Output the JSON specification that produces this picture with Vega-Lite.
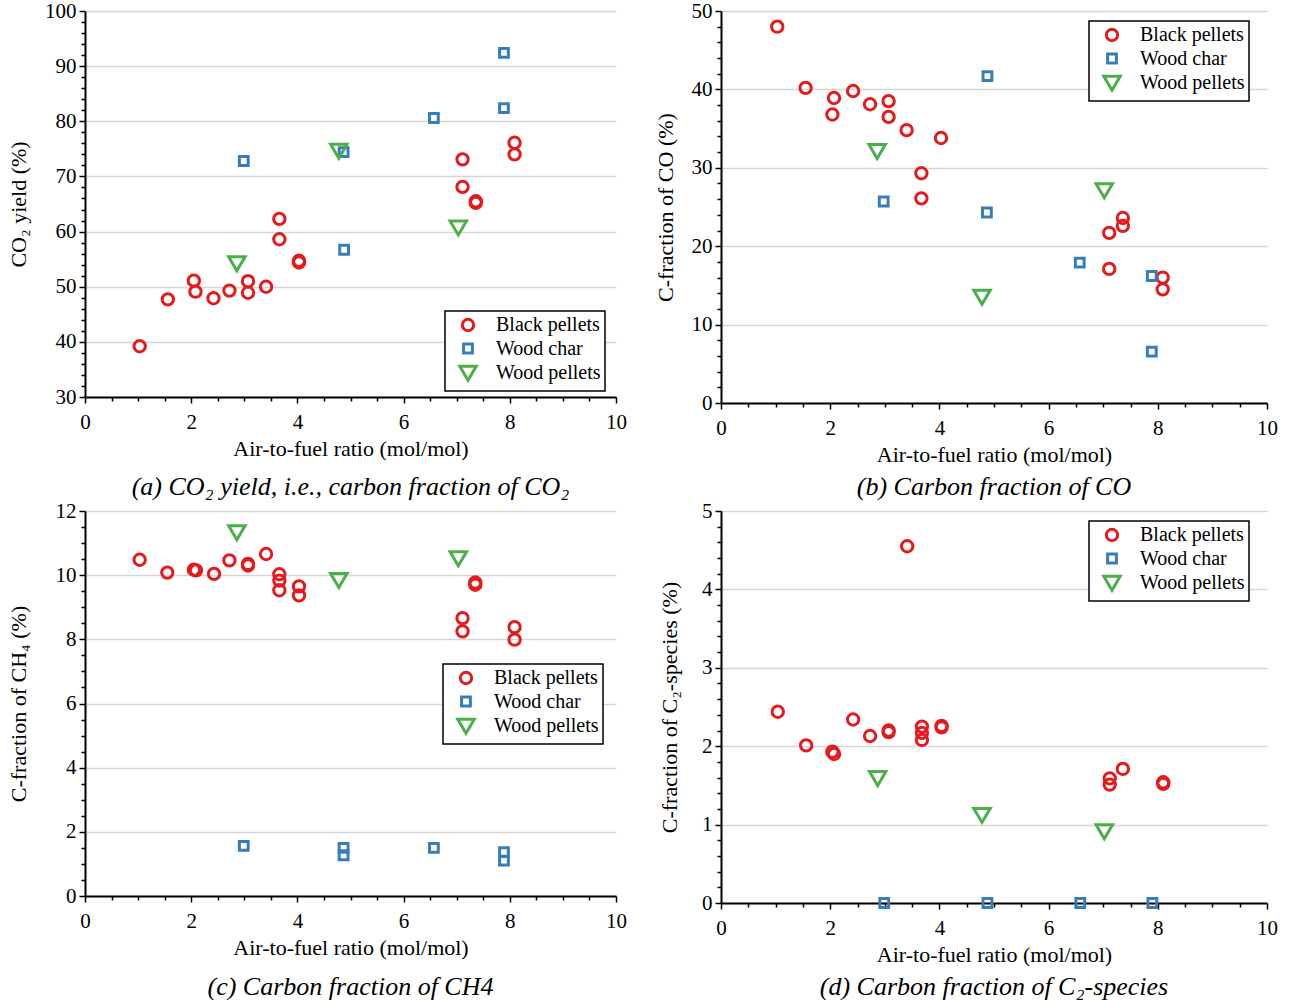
{
  "$schema": "https://vega.github.io/schema/vega-lite/v6.json",
  "padding": {"left": 7, "top": 0, "right": 2, "bottom": 0},
  "background": "white",
  "config": {
    "font": "Liberation Serif",
    "view": {"stroke": null},
    "point": {"opacity": 1, "filled": false, "strokeWidth": 3, "size": 256},
    "axis": {"labelFont": "Liberation Serif", "titleFont": "Liberation Serif", "labelFontSize": 21, "titleFontSize": 22, "titleFontWeight": "normal", "labelColor": "black", "titleColor": "black", "domainColor": "black", "domainWidth": 2, "tickColor": "black", "tickWidth": 1.5, "gridColor": "#d6d6d6", "gridWidth": 1.6, "labelFlush": false, "labelOverlap": false, "format": "d"},
    "axisX": {"labelPadding": 8, "titlePadding": 6},
    "axisY": {"labelPadding": 3, "titlePadding": 14},
    "legend": {"labelFont": "Liberation Serif", "labelFontSize": 20, "labelColor": "black", "strokeColor": "black", "fillColor": "white", "padding": 4, "symbolOffset": 9, "rowPadding": 0.5, "labelOffset": 18, "symbolStrokeWidth": 3, "symbolSize": 256, "symbolOpacity": 1, "strokeWidth": 1.5},
    "title": {"font": "Liberation Serif", "fontSize": 26, "fontStyle": "italic", "fontWeight": "normal", "orient": "bottom", "color": "black", "offset": 9}
  },
  "datasets": {
    "a": [
      {"x": 1.03, "y": 39.2, "fuel": "Black pellets"},
      {"x": 1.56, "y": 47.7, "fuel": "Black pellets"},
      {"x": 2.05, "y": 51.1, "fuel": "Black pellets"},
      {"x": 2.08, "y": 49.1, "fuel": "Black pellets"},
      {"x": 2.42, "y": 47.9, "fuel": "Black pellets"},
      {"x": 2.72, "y": 49.3, "fuel": "Black pellets"},
      {"x": 3.07, "y": 51.0, "fuel": "Black pellets"},
      {"x": 3.07, "y": 48.9, "fuel": "Black pellets"},
      {"x": 3.41, "y": 50.0, "fuel": "Black pellets"},
      {"x": 3.66, "y": 62.3, "fuel": "Black pellets"},
      {"x": 3.66, "y": 58.6, "fuel": "Black pellets"},
      {"x": 4.03, "y": 54.7, "fuel": "Black pellets"},
      {"x": 4.03, "y": 54.4, "fuel": "Black pellets"},
      {"x": 7.11, "y": 73.1, "fuel": "Black pellets"},
      {"x": 7.11, "y": 68.1, "fuel": "Black pellets"},
      {"x": 7.36, "y": 65.5, "fuel": "Black pellets"},
      {"x": 7.36, "y": 65.2, "fuel": "Black pellets"},
      {"x": 8.09, "y": 76.1, "fuel": "Black pellets"},
      {"x": 8.09, "y": 74.0, "fuel": "Black pellets"},
      {"x": 2.99, "y": 72.8, "fuel": "Wood char"},
      {"x": 4.87, "y": 74.4, "fuel": "Wood char"},
      {"x": 4.88, "y": 56.7, "fuel": "Wood char"},
      {"x": 6.57, "y": 80.6, "fuel": "Wood char"},
      {"x": 7.89, "y": 92.4, "fuel": "Wood char"},
      {"x": 7.89, "y": 82.4, "fuel": "Wood char"},
      {"x": 2.86, "y": 54.2, "fuel": "Wood pellets"},
      {"x": 4.78, "y": 74.6, "fuel": "Wood pellets"},
      {"x": 7.03, "y": 60.7, "fuel": "Wood pellets"}
    ],
    "b": [
      {"x": 1.03, "y": 48.0, "fuel": "Black pellets"},
      {"x": 1.55, "y": 40.2, "fuel": "Black pellets"},
      {"x": 2.07, "y": 38.9, "fuel": "Black pellets"},
      {"x": 2.04, "y": 36.8, "fuel": "Black pellets"},
      {"x": 2.42, "y": 39.8, "fuel": "Black pellets"},
      {"x": 2.73, "y": 38.1, "fuel": "Black pellets"},
      {"x": 3.07, "y": 38.5, "fuel": "Black pellets"},
      {"x": 3.07, "y": 36.5, "fuel": "Black pellets"},
      {"x": 3.40, "y": 34.8, "fuel": "Black pellets"},
      {"x": 3.67, "y": 29.3, "fuel": "Black pellets"},
      {"x": 3.67, "y": 26.1, "fuel": "Black pellets"},
      {"x": 4.03, "y": 33.8, "fuel": "Black pellets"},
      {"x": 7.11, "y": 21.7, "fuel": "Black pellets"},
      {"x": 7.11, "y": 17.1, "fuel": "Black pellets"},
      {"x": 7.36, "y": 23.6, "fuel": "Black pellets"},
      {"x": 7.36, "y": 22.6, "fuel": "Black pellets"},
      {"x": 8.09, "y": 16.0, "fuel": "Black pellets"},
      {"x": 8.09, "y": 14.5, "fuel": "Black pellets"},
      {"x": 2.98, "y": 25.7, "fuel": "Wood char"},
      {"x": 4.88, "y": 41.7, "fuel": "Wood char"},
      {"x": 4.87, "y": 24.3, "fuel": "Wood char"},
      {"x": 6.57, "y": 17.9, "fuel": "Wood char"},
      {"x": 7.89, "y": 16.2, "fuel": "Wood char"},
      {"x": 7.89, "y": 6.55, "fuel": "Wood char"},
      {"x": 2.86, "y": 32.1, "fuel": "Wood pellets"},
      {"x": 4.78, "y": 13.5, "fuel": "Wood pellets"},
      {"x": 7.02, "y": 27.1, "fuel": "Wood pellets"}
    ],
    "c": [
      {"x": 1.03, "y": 10.48, "fuel": "Black pellets"},
      {"x": 1.55, "y": 10.08, "fuel": "Black pellets"},
      {"x": 2.05, "y": 10.17, "fuel": "Black pellets"},
      {"x": 2.09, "y": 10.15, "fuel": "Black pellets"},
      {"x": 2.43, "y": 10.04, "fuel": "Black pellets"},
      {"x": 2.72, "y": 10.46, "fuel": "Black pellets"},
      {"x": 3.07, "y": 10.35, "fuel": "Black pellets"},
      {"x": 3.07, "y": 10.3, "fuel": "Black pellets"},
      {"x": 3.41, "y": 10.66, "fuel": "Black pellets"},
      {"x": 3.66, "y": 10.03, "fuel": "Black pellets"},
      {"x": 3.66, "y": 9.83, "fuel": "Black pellets"},
      {"x": 3.66, "y": 9.53, "fuel": "Black pellets"},
      {"x": 4.03, "y": 9.65, "fuel": "Black pellets"},
      {"x": 4.03, "y": 9.37, "fuel": "Black pellets"},
      {"x": 7.11, "y": 8.66, "fuel": "Black pellets"},
      {"x": 7.11, "y": 8.25, "fuel": "Black pellets"},
      {"x": 7.35, "y": 9.77, "fuel": "Black pellets"},
      {"x": 7.35, "y": 9.7, "fuel": "Black pellets"},
      {"x": 8.09, "y": 8.38, "fuel": "Black pellets"},
      {"x": 8.09, "y": 7.99, "fuel": "Black pellets"},
      {"x": 2.99, "y": 1.56, "fuel": "Wood char"},
      {"x": 4.87, "y": 1.5, "fuel": "Wood char"},
      {"x": 4.87, "y": 1.27, "fuel": "Wood char"},
      {"x": 6.57, "y": 1.5, "fuel": "Wood char"},
      {"x": 7.89, "y": 1.37, "fuel": "Wood char"},
      {"x": 7.89, "y": 1.1, "fuel": "Wood char"},
      {"x": 2.86, "y": 11.33, "fuel": "Wood pellets"},
      {"x": 4.78, "y": 9.84, "fuel": "Wood pellets"},
      {"x": 7.03, "y": 10.52, "fuel": "Wood pellets"}
    ],
    "d": [
      {"x": 1.04, "y": 2.44, "fuel": "Black pellets"},
      {"x": 1.56, "y": 2.01, "fuel": "Black pellets"},
      {"x": 2.04, "y": 1.93, "fuel": "Black pellets"},
      {"x": 2.07, "y": 1.9, "fuel": "Black pellets"},
      {"x": 2.42, "y": 2.34, "fuel": "Black pellets"},
      {"x": 2.73, "y": 2.13, "fuel": "Black pellets"},
      {"x": 3.07, "y": 2.2, "fuel": "Black pellets"},
      {"x": 3.07, "y": 2.18, "fuel": "Black pellets"},
      {"x": 3.41, "y": 4.55, "fuel": "Black pellets"},
      {"x": 3.68, "y": 2.25, "fuel": "Black pellets"},
      {"x": 3.68, "y": 2.17, "fuel": "Black pellets"},
      {"x": 3.68, "y": 2.08, "fuel": "Black pellets"},
      {"x": 4.04, "y": 2.26, "fuel": "Black pellets"},
      {"x": 4.04, "y": 2.24, "fuel": "Black pellets"},
      {"x": 7.12, "y": 1.59, "fuel": "Black pellets"},
      {"x": 7.12, "y": 1.51, "fuel": "Black pellets"},
      {"x": 7.36, "y": 1.71, "fuel": "Black pellets"},
      {"x": 8.1, "y": 1.54, "fuel": "Black pellets"},
      {"x": 8.1, "y": 1.52, "fuel": "Black pellets"},
      {"x": 2.99, "y": 0, "fuel": "Wood char"},
      {"x": 4.88, "y": 0, "fuel": "Wood char"},
      {"x": 6.58, "y": 0, "fuel": "Wood char"},
      {"x": 7.9, "y": 0, "fuel": "Wood char"},
      {"x": 2.87, "y": 1.59, "fuel": "Wood pellets"},
      {"x": 4.78, "y": 1.12, "fuel": "Wood pellets"},
      {"x": 7.02, "y": 0.91, "fuel": "Wood pellets"}
    ]
  },
  "spacing": 0,
  "vconcat": [
    {
      "spacing": 27,
      "hconcat": [
        {
          "width": 531, "height": 386,
          "title": {"text": "(a) CO₂ yield, i.e., carbon fraction of CO₂", "offset": 15},
          "data": {"name": "a"},
          "mark": {"type": "point", "clip": false},
          "encoding": {
            "x": {"field": "x", "type": "quantitative", "scale": {"domain": [0, 10], "nice": false, "zero": false},
              "axis": {"title": "Air-to-fuel ratio (mol/mol)", "grid": false, "values": [0,0.5,1,1.5,2,2.5,3,3.5,4,4.5,5,5.5,6,6.5,7,7.5,8,8.5,9,9.5,10], "labelExpr": "datum.value % 2 === 0 ? datum.label : ''", "tickSize": {"condition": {"test": "datum.value % 2 === 0", "value": 6}, "value": 4}}},
            "y": {"field": "y", "type": "quantitative", "scale": {"domain": [30, 100], "nice": false, "zero": false},
              "axis": {"title": "CO₂ yield (%)", "values": [30,32,34,36,38,40,42,44,46,48,50,52,54,56,58,60,62,64,66,68,70,72,74,76,78,80,82,84,86,88,90,92,94,96,98,100], "labelExpr": "datum.value % 10 === 0 ? datum.label : ''", "gridOpacity": {"condition": {"test": "datum.value % 10 === 0", "value": 1}, "value": 0}, "tickSize": {"condition": {"test": "datum.value % 10 === 0", "value": 6}, "value": 4}}},
            "color": {"field": "fuel", "type": "nominal", "scale": {"domain": ["Black pellets", "Wood char", "Wood pellets"], "range": ["#e41a1c", "#377eb8", "#4daf4a"]}, "legend": {"title": null, "orient": "none", "legendX": 360, "legendY": 300}},
            "shape": {"field": "fuel", "type": "nominal", "scale": {"domain": ["Black pellets", "Wood char", "Wood pellets"], "range": ["M0.71,0A0.71,0.71,0,1,1,-0.71,0A0.71,0.71,0,1,1,0.71,0Z", "M-0.55,-0.55L0.55,-0.55L0.55,0.55L-0.55,0.55Z", "M-1.03,-0.85L1.03,-0.85L0,0.9Z"]}, "legend": {"title": null, "orient": "none", "legendX": 360, "legendY": 300}}
          }
        },
        {
          "width": 546, "height": 392,
          "title": {"text": "(b) Carbon fraction of CO"},
          "data": {"name": "b"},
          "mark": {"type": "point", "clip": false},
          "encoding": {
            "x": {"field": "x", "type": "quantitative", "scale": {"domain": [0, 10], "nice": false, "zero": false},
              "axis": {"title": "Air-to-fuel ratio (mol/mol)", "grid": false, "values": [0,0.5,1,1.5,2,2.5,3,3.5,4,4.5,5,5.5,6,6.5,7,7.5,8,8.5,9,9.5,10], "labelExpr": "datum.value % 2 === 0 ? datum.label : ''", "tickSize": {"condition": {"test": "datum.value % 2 === 0", "value": 6}, "value": 4}}},
            "y": {"field": "y", "type": "quantitative", "scale": {"domain": [0, 50], "nice": false},
              "axis": {"title": "C-fraction of CO (%)", "values": [0,2,4,6,8,10,12,14,16,18,20,22,24,26,28,30,32,34,36,38,40,42,44,46,48,50], "labelExpr": "datum.value % 10 === 0 ? datum.label : ''", "gridOpacity": {"condition": {"test": "datum.value % 10 === 0", "value": 1}, "value": 0}, "tickSize": {"condition": {"test": "datum.value % 10 === 0", "value": 6}, "value": 4}}},
            "color": {"field": "fuel", "type": "nominal", "scale": {"domain": ["Black pellets", "Wood char", "Wood pellets"], "range": ["#e41a1c", "#377eb8", "#4daf4a"]}, "legend": {"title": null, "orient": "none", "legendX": 368, "legendY": 10}},
            "shape": {"field": "fuel", "type": "nominal", "scale": {"domain": ["Black pellets", "Wood char", "Wood pellets"], "range": ["M0.71,0A0.71,0.71,0,1,1,-0.71,0A0.71,0.71,0,1,1,0.71,0Z", "M-0.55,-0.55L0.55,-0.55L0.55,0.55L-0.55,0.55Z", "M-1.03,-0.85L1.03,-0.85L0,0.9Z"]}, "legend": {"title": null, "orient": "none", "legendX": 368, "legendY": 10}}
          }
        }
      ],
      "resolve": {"scale": {"color": "independent", "shape": "independent"}, "legend": {"color": "independent", "shape": "independent"}}
    },
    {
      "spacing": 31,
      "hconcat": [
        {
          "width": 531, "height": 385,
          "title": {"text": "(c) Carbon fraction of CH4", "offset": 16},
          "data": {"name": "c"},
          "mark": {"type": "point", "clip": false},
          "encoding": {
            "x": {"field": "x", "type": "quantitative", "scale": {"domain": [0, 10], "nice": false, "zero": false},
              "axis": {"title": "Air-to-fuel ratio (mol/mol)", "grid": false, "values": [0,0.5,1,1.5,2,2.5,3,3.5,4,4.5,5,5.5,6,6.5,7,7.5,8,8.5,9,9.5,10], "labelExpr": "datum.value % 2 === 0 ? datum.label : ''", "tickSize": {"condition": {"test": "datum.value % 2 === 0", "value": 6}, "value": 4}}},
            "y": {"field": "y", "type": "quantitative", "scale": {"domain": [0, 12], "nice": false},
              "axis": {"title": "C-fraction of CH₄ (%)", "titlePadding": 25, "values": [0,0.5,1,1.5,2,2.5,3,3.5,4,4.5,5,5.5,6,6.5,7,7.5,8,8.5,9,9.5,10,10.5,11,11.5,12], "labelExpr": "datum.value % 2 === 0 ? datum.label : ''", "gridOpacity": {"condition": {"test": "datum.value % 2 === 0", "value": 1}, "value": 0}, "tickSize": {"condition": {"test": "datum.value % 2 === 0", "value": 6}, "value": 4}}},
            "color": {"field": "fuel", "type": "nominal", "scale": {"domain": ["Black pellets", "Wood char", "Wood pellets"], "range": ["#e41a1c", "#377eb8", "#4daf4a"]}, "legend": {"title": null, "orient": "none", "legendX": 358, "legendY": 153}},
            "shape": {"field": "fuel", "type": "nominal", "scale": {"domain": ["Black pellets", "Wood char", "Wood pellets"], "range": ["M0.71,0A0.71,0.71,0,1,1,-0.71,0A0.71,0.71,0,1,1,0.71,0Z", "M-0.55,-0.55L0.55,-0.55L0.55,0.55L-0.55,0.55Z", "M-1.03,-0.85L1.03,-0.85L0,0.9Z"]}, "legend": {"title": null, "orient": "none", "legendX": 358, "legendY": 153}}
          }
        },
        {
          "width": 546, "height": 392,
          "title": {"text": "(d) Carbon fraction of C₂-species"},
          "data": {"name": "d"},
          "mark": {"type": "point", "clip": false},
          "encoding": {
            "x": {"field": "x", "type": "quantitative", "scale": {"domain": [0, 10], "nice": false, "zero": false},
              "axis": {"title": "Air-to-fuel ratio (mol/mol)", "grid": false, "values": [0,0.5,1,1.5,2,2.5,3,3.5,4,4.5,5,5.5,6,6.5,7,7.5,8,8.5,9,9.5,10], "labelExpr": "datum.value % 2 === 0 ? datum.label : ''", "tickSize": {"condition": {"test": "datum.value % 2 === 0", "value": 6}, "value": 4}}},
            "y": {"field": "y", "type": "quantitative", "scale": {"domain": [0, 5], "nice": false},
              "axis": {"title": "C-fraction of C₂-species (%)", "titlePadding": 20, "values": [0,0.2,0.4,0.6,0.8,1,1.2,1.4,1.6,1.8,2,2.2,2.4,2.6,2.8,3,3.2,3.4,3.6,3.8,4,4.2,4.4,4.6,4.8,5], "labelExpr": "abs(datum.value - round(datum.value)) < 0.000001 ? datum.label : ''", "gridOpacity": {"condition": {"test": "abs(datum.value - round(datum.value)) < 0.000001", "value": 1}, "value": 0}, "tickSize": {"condition": {"test": "abs(datum.value - round(datum.value)) < 0.000001", "value": 6}, "value": 4}}},
            "color": {"field": "fuel", "type": "nominal", "scale": {"domain": ["Black pellets", "Wood char", "Wood pellets"], "range": ["#e41a1c", "#377eb8", "#4daf4a"]}, "legend": {"title": null, "orient": "none", "legendX": 368, "legendY": 10}},
            "shape": {"field": "fuel", "type": "nominal", "scale": {"domain": ["Black pellets", "Wood char", "Wood pellets"], "range": ["M0.71,0A0.71,0.71,0,1,1,-0.71,0A0.71,0.71,0,1,1,0.71,0Z", "M-0.55,-0.55L0.55,-0.55L0.55,0.55L-0.55,0.55Z", "M-1.03,-0.85L1.03,-0.85L0,0.9Z"]}, "legend": {"title": null, "orient": "none", "legendX": 368, "legendY": 10}}
          }
        }
      ],
      "resolve": {"scale": {"color": "independent", "shape": "independent"}, "legend": {"color": "independent", "shape": "independent"}}
    }
  ],
  "resolve": {"scale": {"color": "independent", "shape": "independent"}, "legend": {"color": "independent", "shape": "independent"}}
}
